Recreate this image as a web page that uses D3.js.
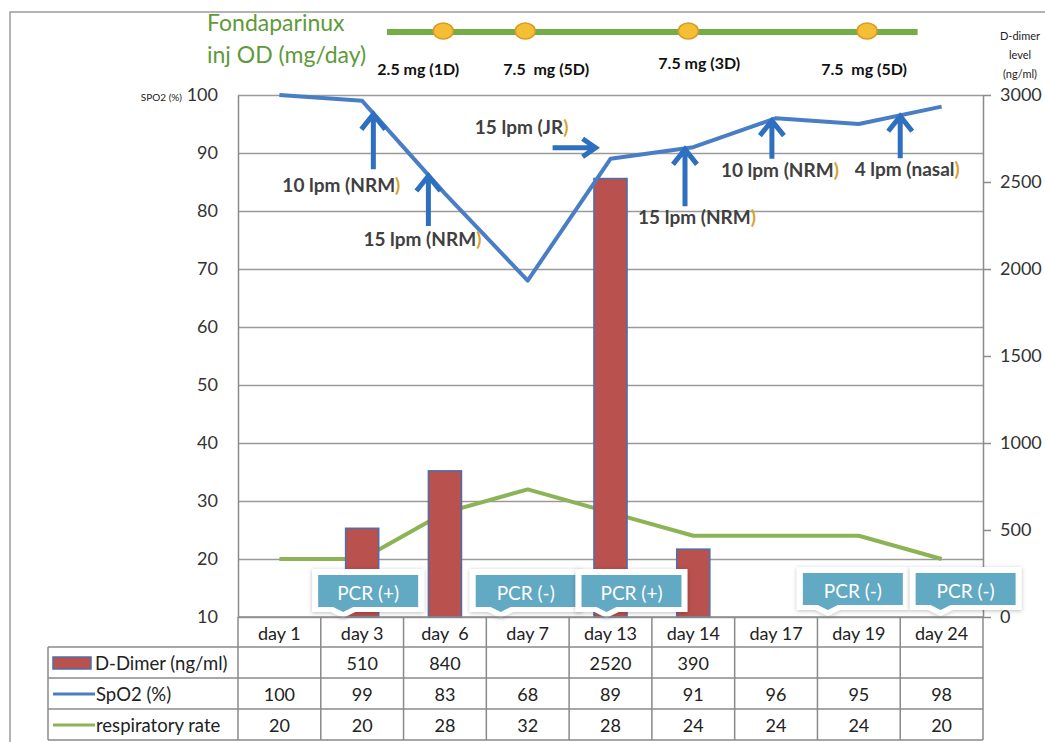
<!DOCTYPE html>
<html>
<head>
<meta charset="utf-8">
<script src="https://cdn.jsdelivr.net/npm/d3@7"></script>
<style>
body { margin: 0; background: #fff; }
svg text { font-family: Lato, "Open Sans", sans-serif; }
</style>
</head>
<body>
<div id="chart"></div>
<script>
// chart data
var days = ["day 1", "day 3", "day  6", "day 7", "day 13", "day 14", "day 17", "day 19", "day 24"];
var dDimer = [null, 510, 840, null, 2520, 390, null, null, null];
var spo2 = [100, 99, 83, 68, 89, 91, 96, 95, 98];
var respRate = [20, 20, 28, 32, 28, 24, 24, 24, 20];
var leftTicks = [10, 20, 30, 40, 50, 60, 70, 80, 90, 100];
var rightTicks = [0, 500, 1000, 1500, 2000, 2500, 3000];
var seriesNames = ["D-Dimer (ng/ml)", "SpO2 (%)", "respiratory rate"];

// fondaparinux doses (day index where the marker sits)
var doseLabels = ["2.5 mg (1D)", "7.5  mg (5D)", "7.5 mg (3D)", "7.5  mg (5D)"];
var doseAt = [1.98, 2.97, 4.94, 7.1];

// oxygen support notes along the SpO2 line
var o2Labels = ["10 lpm (NRM", "15 lpm (NRM", "15 lpm (JR", "15 lpm (NRM", "10 lpm (NRM", "4 lpm (nasal"];
var o2At = [1.135, 1.8, 3.82, 4.9, 5.95, 7.5];

// PCR results
var pcrLabels = ["PCR (+)", "PCR (-)", "PCR (+)", "PCR (-)", "PCR (-)"];
var pcrDays = ["day 3", "day 7", "day 13", "day 19", "day 24"];

var W = 1045, H = 742;
var pLeft = 238, pRight = 983, pTop = 95, pBottom = 617;

var svg = d3.select('#chart').append('svg')
	.attr('width', W)
	.attr('height', H);

var defs = svg.append('defs');
var f = defs.append('filter').attr('id', 'shadow').attr('x', '-20%').attr('y', '-30%').attr('width', '140%').attr('height', '170%');
f.append('feDropShadow').attr('dx', 0).attr('dy', 1).attr('stdDeviation', 2).attr('flood-color', '#000').attr('flood-opacity', 0.25);

// outer frame
svg.append('rect').attr('x', 10).attr('y', 12).attr('width', W).attr('height', H)
	.attr('fill', 'none').attr('stroke', '#9a9a9a').attr('stroke-width', 1.5);

var x = d3.scaleBand().domain(days).range([pLeft, pRight]).padding(0);
var bw = x.bandwidth();
var yL = d3.scaleLinear().domain([10, 100]).range([pBottom, pTop]);
var yR = d3.scaleLinear().domain([0, 3000]).range([pBottom, pTop]);
var xi = d3.scaleLinear().domain([0, days.length - 1])
	.range([x(days[0]) + bw / 2, x(days[days.length - 1]) + bw / 2]);

function spo2At(p) { // interpolated SpO2 at a fractional day index
	var i = Math.min(Math.floor(p), spo2.length - 2);
	var t = p - i;
	return spo2[i] + (spo2[i + 1] - spo2[i]) * t;
}

// gridlines
svg.append('g').attr('transform', 'translate(' + pLeft + ',0)')
	.call(d3.axisLeft(yL).tickValues(leftTicks).tickSize(-(pRight - pLeft)).tickFormat(''))
	.call(function (g) {
		g.select('.domain').remove();
		g.selectAll('line').attr('stroke', '#9a9a9a').attr('stroke-width', 1.5);
	});

// left axis
svg.append('g').attr('transform', 'translate(' + pLeft + ',0)')
	.call(d3.axisLeft(yL).tickValues(leftTicks).tickSize(0).tickPadding(20))
	.call(function (g) {
		g.select('.domain').attr('stroke', '#8a8a8a').attr('stroke-width', 1.5);
		g.selectAll('text').attr('font-size', 18).attr('fill', '#333').attr('font-family', 'Lato');
	});

svg.append('text').attr('x', 182).attr('y', 101).attr('text-anchor', 'end')
	.attr('font-size', 10).attr('fill', '#222').text('SPO2 (%)');

// right axis
svg.append('g').attr('transform', 'translate(' + pRight + ',0)')
	.call(d3.axisRight(yR).tickValues(rightTicks).tickSize(8).tickSizeOuter(0).tickPadding(9)
		.tickFormat(d3.format('d')))
	.call(function (g) {
		g.select('.domain').attr('stroke', '#8a8a8a').attr('stroke-width', 1.5);
		g.selectAll('line').attr('stroke', '#8a8a8a').attr('stroke-width', 1.5);
		g.selectAll('text').attr('font-size', 18).attr('fill', '#333').attr('font-family', 'Lato');
	});

svg.append('g').selectAll('text').data(['D-dimer', 'level', '(ng/ml)']).enter().append('text')
	.attr('x', 1020).attr('y', function (d, i) { return 40 + i * 19; })
	.attr('text-anchor', 'middle').attr('font-size', 11).attr('fill', '#222')
	.text(function (d) { return d; });

// respiratory rate line (drawn under the bars)
var line = function (vals) {
	return d3.line()
		.x(function (d, i) { return x(days[i]) + bw / 2; })
		.y(function (d) { return yL(d); })(vals);
};
svg.append('path').attr('d', line(respRate)).attr('fill', 'none')
	.attr('stroke', '#8cb454').attr('stroke-width', 4).attr('stroke-linejoin', 'round');

// D-dimer bars
var barData = days.map(function (d, i) { return { day: d, v: dDimer[i] }; })
	.filter(function (d) { return d.v != null; });
svg.append('g').selectAll('rect').data(barData).enter().append('rect')
	.attr('x', function (d) { return x(d.day) + bw * 0.3; })
	.attr('width', bw * 0.4)
	.attr('y', function (d) { return yR(d.v); })
	.attr('height', function (d) { return yR(0) - yR(d.v); })
	.attr('fill', '#b9514e')
	.attr('stroke', '#4b6fae')
	.attr('stroke-width', 1.5);

// SpO2 line
svg.append('path').attr('d', line(spo2)).attr('fill', 'none')
	.attr('stroke', '#4a7ec4').attr('stroke-width', 4).attr('stroke-linejoin', 'round');

// fondaparinux timeline
svg.append('text').attr('x', 207).attr('y', 31).attr('font-size', 23).attr('fill', '#5e9a3a').text('Fondaparinux');
svg.append('text').attr('x', 207).attr('y', 63).attr('font-size', 23).attr('fill', '#5e9a3a').text('inj OD (mg/day)');

svg.append('line').attr('x1', xi(1.3)).attr('x2', xi(7.71)).attr('y1', 32).attr('y2', 32)
	.attr('stroke', '#72ad47').attr('stroke-width', 6);
svg.append('g').selectAll('ellipse').data(doseAt).enter().append('ellipse')
	.attr('cx', function (d) { return xi(d); }).attr('cy', 31)
	.attr('rx', 10).attr('ry', 8)
	.attr('fill', '#f5bf35').attr('stroke', '#d99a26').attr('stroke-width', 1.5);
var doseDx = [-25, 21, 11, -3];
var doseY = [75, 75, 69, 75];
svg.append('g').selectAll('text').data(doseLabels).enter().append('text')
	.attr('x', function (d, i) { return xi(doseAt[i]) + doseDx[i]; })
	.attr('y', function (d, i) { return doseY[i]; })
	.attr('text-anchor', 'middle').attr('font-size', 16).attr('font-weight', 'bold')
	.attr('fill', '#111').style('white-space', 'pre')
	.text(function (d) { return d; });

// oxygen arrows + labels
var blue = '#2e6fc0';
var o2Layout = [
	{ len: 55, dx: -32, dy: 15 },
	{ len: 50, dx: -6, dy: 12 },
	{ horiz: true, len: 43, dx: -74, dy: -22 },
	{ len: 57, dx: 12, dy: 10 },
	{ len: 38, dx: 8, dy: 10 },
	{ len: 42, dx: 7, dy: 10 }
];
var arrows = svg.append('g');
o2Labels.forEach(function (lab, i) {
	var L = o2Layout[i];
	var tx = xi(o2At[i]);
	var ty, path, lx, ly;
	if (L.horiz) {
		// points at the next recorded SpO2 value
		ty = yL(spo2[Math.ceil(o2At[i])]) - 11;
		path = 'M' + (tx - L.len) + ',' + ty + 'L' + tx + ',' + ty +
			'M' + (tx - 13) + ',' + (ty - 9) + 'L' + tx + ',' + ty + 'L' + (tx - 13) + ',' + (ty + 9);
		lx = tx + L.dx;
		ly = ty + L.dy;
	} else {
		ty = yL(spo2At(o2At[i])) + 1;
		path = 'M' + tx + ',' + ty + 'L' + tx + ',' + (ty + L.len) +
			'M' + (tx - 12) + ',' + (ty + 15) + 'L' + tx + ',' + ty + 'L' + (tx + 12) + ',' + (ty + 15);
		lx = tx + L.dx;
		ly = ty + L.len + L.dy;
	}
	arrows.append('path').attr('d', path).attr('fill', 'none')
		.attr('stroke', blue).attr('stroke-width', 5).attr('stroke-linecap', 'butt').attr('stroke-linejoin', 'miter');
	var t = arrows.append('text').attr('x', lx).attr('y', ly)
		.attr('text-anchor', 'middle').attr('dominant-baseline', 'central')
		.attr('font-size', 19).attr('font-weight', 'bold').attr('fill', '#404040');
	t.append('tspan').text(lab);
	t.append('tspan').attr('fill', '#d9a12a').text(')');
});

// PCR callouts
var pcrDx = [6, -2, 21, -6, 24];
var pcrY = [575, 575, 575, 573, 573];
var bwx = 100, bh = 32;
var pcr = svg.append('g');
pcrLabels.forEach(function (lab, i) {
	var cx = x(pcrDays[i]) + bw / 2 + pcrDx[i];
	var x0 = cx - bwx / 2, y0 = pcrY[i];
	var px = x0 + 25;
	var back = 'M' + (x0 - 6) + ',' + (y0 - 6) + 'H' + (x0 + bwx + 6) + 'V' + (y0 + bh + 5) +
		'H' + (px + 12) + 'L' + px + ',' + (y0 + bh + 11) + 'L' + (px - 12) + ',' + (y0 + bh + 5) +
		'H' + (x0 - 6) + 'Z';
	pcr.append('path').attr('d', back).attr('fill', '#fff').attr('filter', 'url(#shadow)');
	var box = 'M' + x0 + ',' + y0 + 'H' + (x0 + bwx) + 'V' + (y0 + bh) +
		'H' + (px + 10) + 'L' + px + ',' + (y0 + bh + 5) + 'L' + (px - 10) + ',' + (y0 + bh) +
		'H' + x0 + 'Z';
	pcr.append('path').attr('d', box).attr('fill', '#62a9c4');
	pcr.append('text').attr('x', cx).attr('y', y0 + bh / 2 + 1)
		.attr('text-anchor', 'middle').attr('dominant-baseline', 'central')
		.attr('font-size', 19).attr('fill', '#fff').text(lab);
});

// data table under the chart
var rowTop = [pBottom, 647, 678, 709];
var tbl = svg.append('g');
var gridC = '#8a8a8a';
// horizontal lines
tbl.append('line').attr('x1', pLeft).attr('x2', pRight).attr('y1', pBottom).attr('y2', pBottom)
	.attr('stroke', gridC).attr('stroke-width', 1.5);
[647, 678, 709, 740].forEach(function (yy) {
	tbl.append('line').attr('x1', 48).attr('x2', pRight).attr('y1', yy).attr('y2', yy)
		.attr('stroke', gridC).attr('stroke-width', 1.5);
});
// vertical lines
days.concat(['end']).forEach(function (d, i) {
	var xx = pLeft + i * bw;
	tbl.append('line').attr('x1', xx).attr('x2', xx).attr('y1', pBottom).attr('y2', 740)
		.attr('stroke', gridC).attr('stroke-width', 1.5);
});
tbl.append('line').attr('x1', 48).attr('x2', 48).attr('y1', 647).attr('y2', 740)
	.attr('stroke', gridC).attr('stroke-width', 1.5);

var rows = [days, dDimer, spo2, respRate];
rows.forEach(function (vals, r) {
	tbl.append('g').selectAll('text').data(vals).enter().append('text')
		.attr('x', function (d, i) { return x(days[i]) + bw / 2; })
		.attr('y', rowTop[r] + 16)
		.attr('text-anchor', 'middle').attr('dominant-baseline', 'central')
		.attr('font-size', 18).attr('fill', '#222').style('white-space', 'pre')
		.text(function (d) { return d == null ? '' : d; });
});

// legend keys in first column
tbl.append('rect').attr('x', 53).attr('y', 657).attr('width', 38).attr('height', 12)
	.attr('fill', '#b9514e').attr('stroke', '#4b6fae').attr('stroke-width', 1.5);
tbl.append('line').attr('x1', 53).attr('x2', 95).attr('y1', 694).attr('y2', 694)
	.attr('stroke', '#4a7ec4').attr('stroke-width', 3);
tbl.append('line').attr('x1', 53).attr('x2', 95).attr('y1', 725).attr('y2', 725)
	.attr('stroke', '#8cb454').attr('stroke-width', 3);
tbl.append('g').selectAll('text').data(seriesNames).enter().append('text')
	.attr('x', function (d, i) { return i === 0 ? 95 : 96; })
	.attr('y', function (d, i) { return rowTop[i + 1] + 16; })
	.attr('dominant-baseline', 'central')
	.attr('font-size', 18.5).attr('fill', '#222')
	.text(function (d) { return d; });
</script>
</body>
</html>
